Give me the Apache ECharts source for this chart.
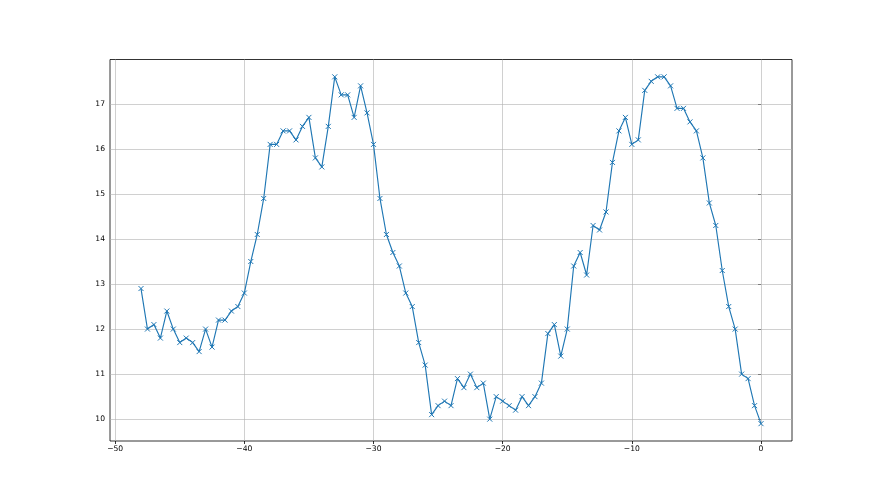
<!DOCTYPE html>
<html>
<head>
<meta charset="utf-8">
<script src="https://cdn.jsdelivr.net/npm/echarts@6/dist/echarts.min.js"></script>
<style>html,body{margin:0;padding:0;background:#fff}#c{width:880px;height:495px}</style>
</head>
<body>
<div id="c"></div>
<script>
var xValues = [-48,-47.5,-47,-46.5,-46,-45.5,-45,-44.5,-44,-43.5,-43,-42.5,-42,-41.5,-41,-40.5,-40,-39.5,-39,-38.5,-38,-37.5,-37,-36.5,-36,-35.5,-35,-34.5,-34,-33.5,-33,-32.5,-32,-31.5,-31,-30.5,-30,-29.5,-29,-28.5,-28,-27.5,-27,-26.5,-26,-25.5,-25,-24.5,-24,-23.5,-23,-22.5,-22,-21.5,-21,-20.5,-20,-19.5,-19,-18.5,-18,-17.5,-17,-16.5,-16,-15.5,-15,-14.5,-14,-13.5,-13,-12.5,-12,-11.5,-11,-10.5,-10,-9.5,-9,-8.5,-8,-7.5,-7,-6.5,-6,-5.5,-5,-4.5,-4,-3.5,-3,-2.5,-2,-1.5,-1,-0.5,0];
var yValues = [12.9,12.0,12.1,11.8,12.4,12.0,11.7,11.8,11.7,11.5,12.0,11.6,12.2,12.2,12.4,12.5,12.8,13.5,14.1,14.9,16.1,16.1,16.4,16.4,16.2,16.5,16.7,15.8,15.6,16.5,17.6,17.2,17.2,16.7,17.4,16.8,16.1,14.9,14.1,13.7,13.4,12.8,12.5,11.7,11.2,10.1,10.3,10.4,10.3,10.9,10.7,11.0,10.7,10.8,10.0,10.5,10.4,10.3,10.2,10.5,10.3,10.5,10.8,11.9,12.1,11.4,12.0,13.4,13.7,13.2,14.3,14.2,14.6,15.7,16.4,16.7,16.1,16.2,17.3,17.5,17.6,17.6,17.4,16.9,16.9,16.6,16.4,15.8,14.8,14.3,13.3,12.5,12.0,11.0,10.9,10.3,9.9];
var xTicks = [-50,-40,-30,-20,-10,0];
var yTicks = [10,11,12,13,14,15,16,17];

var chart = echarts.init(document.getElementById('c'), null, {renderer:'canvas'});
var fmt = function(v){ return String(v).replace('-', '\u2212'); };
var gridLines = xTicks.map(function(v){return {xAxis:v};}).concat(yTicks.map(function(v){return {yAxis:v};}));
chart.setOption({
  animation:false,
  backgroundColor:'#fff',
  grid:{left:110, right:88, top:59.5, bottom:54, show:true, borderColor:'#000', borderWidth:0.8, backgroundColor:'#fff'},
  xAxis:{
    type:'value', min:-50.4, max:2.4,
    axisLine:{show:false},
    splitLine:{show:false},
    axisTick:{show:true, customValues:xTicks, length:3, lineStyle:{color:'#000', width:0.8}},
    axisLabel:{customValues:xTicks, formatter:fmt, color:'#000', fontFamily:'DejaVu Sans', fontSize:7.6, margin:4}
  },
  yAxis:{
    type:'value', min:9.515, max:17.985,
    axisLine:{show:false},
    splitLine:{show:false},
    axisTick:{show:true, customValues:yTicks, length:3, lineStyle:{color:'#000', width:0.8}},
    axisLabel:{customValues:yTicks, formatter:fmt, color:'#000', fontFamily:'DejaVu Sans', fontSize:7.6, margin:5}
  },
  series:[{
    type:'line',
    data:xValues.map(function(x,i){return [x, yValues[i]];}),
    lineStyle:{color:'#1f77b4', width:1.15},
    symbol:'path://M0,0L10,10M10,0L0,10',
    symbolSize:5,
    showSymbol:true,
    itemStyle:{color:'rgba(0,0,0,0)', borderColor:'#1f77b4', borderWidth:1},
    z:3,
    markLine:{
      silent:true, symbol:['none','none'], label:{show:false},
      lineStyle:{color:'#b0b0b0', width:0.6, type:'solid'},
      emphasis:{disabled:true},
      data:gridLines,
      z:1
    }
  }]
});
</script>
</body>
</html>
